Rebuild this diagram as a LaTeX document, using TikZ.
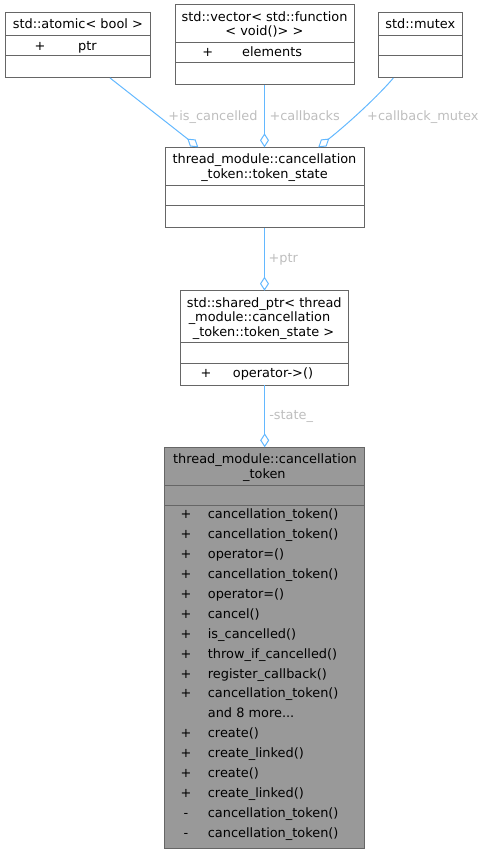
\documentclass[tikz,border=0pt]{standalone}
\usepackage{fontspec}
\setmainfont{DejaVu Sans}
\usetikzlibrary{arrows.meta}
\definecolor{edgeblue}{HTML}{63B8FF}
\definecolor{boxborder}{HTML}{666666}
\definecolor{mainfill}{HTML}{999999}
\definecolor{lblgray}{HTML}{BEBEBE}
\begin{document}
\begin{tikzpicture}[x=1pt,y=-1pt,
  box/.style={draw=boxborder, line width=1pt, fill=white, inner sep=0pt, outer sep=0pt, anchor=north west},
  mainbox/.style={box, fill=mainfill},
  divider/.style={draw=boxborder, line width=1pt},
  txt/.style={inner sep=0pt, font=\fontsize{12.9}{15}\selectfont, text height=11pt, text depth=2pt},
  member/.style={txt, anchor=west},
  lbl/.style={txt, text=lblgray},
  assoc/.style={draw=edgeblue, line width=1pt, -{Diamond[open,length=14pt,width=9pt]}}
]
\useasboundingbox (0,0) rectangle (486,853);

% std::atomic< bool >
\node[box, minimum width=145.7pt, minimum height=65.3pt] (atomic) at (5,12.7) {};
\draw[divider] (5,36) -- (150.7,36);
\draw[divider] (5,56) -- (150.7,56);
\node[txt] (atomic-t) at (77.85,24.3) {std::atomic< bool >};
\node[txt] (atomic-p1) at (40,46) {+};
\node[member] (atomic-m1) at (78,46) {ptr};

% std::vector
\node[box, minimum width=179pt, minimum height=80pt] (vector) at (175,5) {};
\draw[divider] (175,42.7) -- (354,42.7);
\draw[divider] (175,62.3) -- (354,62.3);
\node[txt] (vector-t1) at (264.6,16.7) {std::vector< std::function};
\node[txt] (vector-t2) at (264.4,31) {< void()> >};
\node[txt] (vector-p1) at (207.7,52) {+};
\node[member] (vector-m1) at (242,52) {elements};

% std::mutex
\node[box, minimum width=84.7pt, minimum height=65.3pt] (mutex) at (378,12.7) {};
\draw[divider] (378,36) -- (462.7,36);
\draw[divider] (378,56) -- (462.7,56);
\node[txt] (mutex-t) at (420.3,24.3) {std::mutex};

% token_state
\node[box, minimum width=199pt, minimum height=80.4pt] (token) at (165,147.3) {};
\draw[divider] (165,185) -- (364,185);
\draw[divider] (165,205.7) -- (364,205.7);
\node[txt] (token-t1) at (264.5,159.3) {thread\_module::cancellation};
\node[txt] (token-t2) at (264.5,174) {\_token::token\_state};

% shared_ptr
\node[box, minimum width=168pt, minimum height=94.3pt] (shared) at (180.7,290.7) {};
\draw[divider] (180.7,342.7) -- (348.7,342.7);
\draw[divider] (180.7,363.3) -- (348.7,363.3);
\node[txt] (shared-t1) at (264.2,302.7) {std::shared\_ptr< thread};
\node[txt] (shared-t2) at (259.5,317.3) {\_module::cancellation};
\node[txt] (shared-t3) at (263.5,332.3) {\_token::token\_state >};
\node[txt] (shared-p1) at (206,372.5) {+};
\node[member] (shared-m1) at (232.7,372.5) {operator->()};

% cancellation_token
\node[mainbox, minimum width=199.3pt, minimum height=401pt] (main) at (164.7,447.3) {};
\draw[divider] (164.7,485) -- (364,485);
\draw[divider] (164.7,505.7) -- (364,505.7);
\node[txt] (main-t1) at (265,459) {thread\_module::cancellation};
\node[txt] (main-t2) at (264.4,474) {\_token};
\foreach \i/\v/\m in {0/+/cancellation\_token(), 1/+/cancellation\_token(), 2/+/operator=(),
  3/+/cancellation\_token(), 4/+/operator=(), 5/+/cancel(), 6/+/is\_cancelled(),
  7/+/throw\_if\_cancelled(), 8/+/register\_callback(), 9/+/cancellation\_token(),
  11/+/create(), 12/+/create\_linked(), 13/+/create(),
  14/+/create\_linked(), 15/-/cancellation\_token(), 16/-/cancellation\_token()} {
  \node[txt] (main-p\i) at (186,514+19.94*\i) {\v};
  \node[member] (main-m\i) at (207.7,514+19.94*\i) {\m};
}
\node[member] (main-m10) at (207.7,514+19.94*10) {and 8 more...};

% connectors
\draw[assoc] ([xshift=32.2pt]atomic.south) -- ([xshift=-66.2pt]token.north);
\draw[assoc] (vector.south) -- (vector.south |- token.north);
\draw[assoc] ([xshift=-27pt]mutex.south) .. controls (379,95) and (350,122) .. ([xshift=53.8pt]token.north);
\draw[assoc] (token.south) -- (token.south |- shared.north);
\draw[assoc] (shared.south) -- (shared.south |- main.north);

% labels
\node[lbl] (l-iscancelled) at (213,115.7) {+is\_cancelled};
\node[lbl] (l-callbacks) at (304.7,115.7) {+callbacks};
\node[lbl] (l-mutex) at (422.8,115.7) {+callback\_mutex};
\node[lbl] (l-ptr) at (283.3,258) {+ptr};
\node[lbl] (l-state) at (291.2,415) {-state\_};
\end{tikzpicture}
\end{document}
